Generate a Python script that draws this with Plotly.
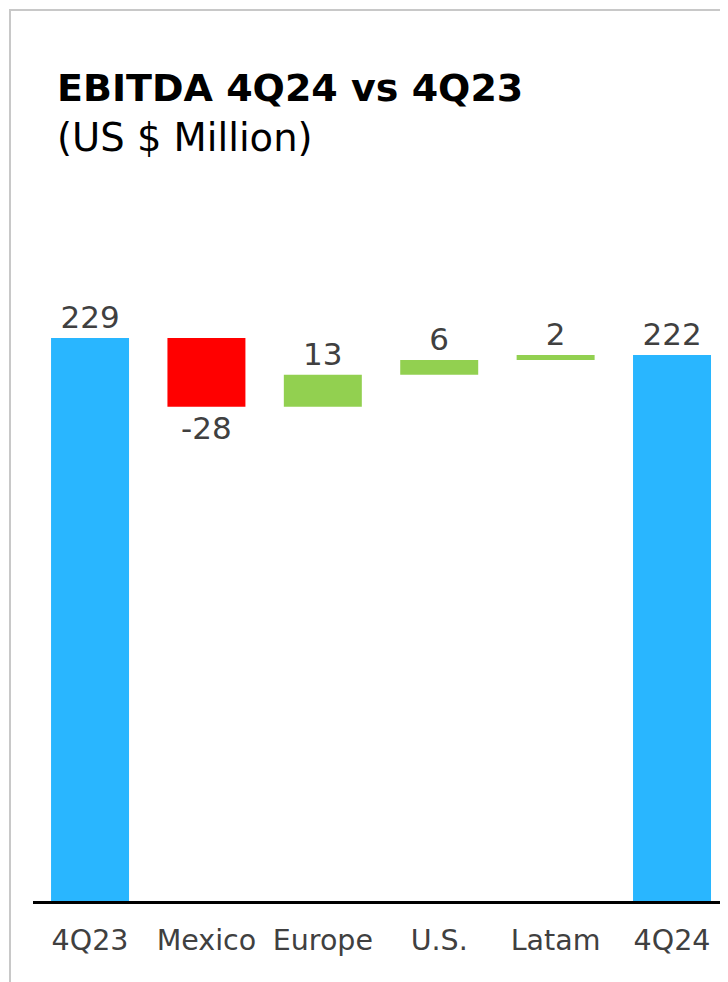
import plotly.graph_objects as go

categories = ["4Q23", "Mexico", "Europe", "U.S.", "Latam", "4Q24"]
values = [229, -28, 13, 6, 2, 222]
measures = ["absolute", "relative", "relative", "relative", "relative", "total"]
labels = ["229", "-28", "13", "6", "2", "222"]

BLUE = "#29B6FF"
GREEN = "#92D050"
RED = "#FF0000"
TXT = "#404040"
FONT = "DejaVu Sans, Verdana, sans-serif"

# page has an 8px body margin, so figure coords = page coords - 8
W, H = 720, 974
left, top, bottom_y = 25, 172, 893
plot_w, plot_h = W - left, bottom_y - top

fig = go.Figure(go.Waterfall(
    x=categories, y=values, measure=measures,
    text=labels, textposition="outside",
    textfont=dict(size=31, color=TXT, family=FONT),
    increasing=dict(marker=dict(color=GREEN)),
    decreasing=dict(marker=dict(color=RED)),
    totals=dict(marker=dict(color=BLUE)),
    connector=dict(visible=False),
    cliponaxis=False, hoverinfo="skip",
))

def px_x(x):
    return (x - 8 - left) / plot_w

def px_y(y):
    return 1 + (top - (y - 8)) / plot_h

fig.add_annotation(text="<b>EBITDA 4Q24 vs 4Q23</b>", xref="paper", yref="paper",
                   x=px_x(55), y=px_y(88), xanchor="left", yanchor="middle",
                   showarrow=False, font=dict(size=38, color="black", family=FONT))
fig.add_annotation(text="(US $ Million)", xref="paper", yref="paper",
                   x=px_x(55), y=px_y(137), xanchor="left", yanchor="middle",
                   showarrow=False, font=dict(size=38.5, color="black", family=FONT))

# outer frame
fig.add_shape(type="rect", xref="paper", yref="paper",
              x0=px_x(10), x1=1.2, y0=-0.3, y1=px_y(10),
              line=dict(color="#c8c8c8", width=2), layer="below")

fig.update_layout(
    width=W, height=H,
    margin=dict(l=left, r=0, t=top, b=H - bottom_y),
    paper_bgcolor="white", plot_bgcolor="white",
    showlegend=False, waterfallgap=0.33,
    xaxis=dict(showline=True, linecolor="black", linewidth=3, showgrid=False,
               range=[-0.49, 5.481],
               tickfont=dict(size=28.5, color=TXT, family=FONT), ticklabelstandoff=12),
    yaxis=dict(range=[0, plot_h / 2.459], visible=False, showgrid=False, zeroline=False),
)

fig.write_html("out.html")
